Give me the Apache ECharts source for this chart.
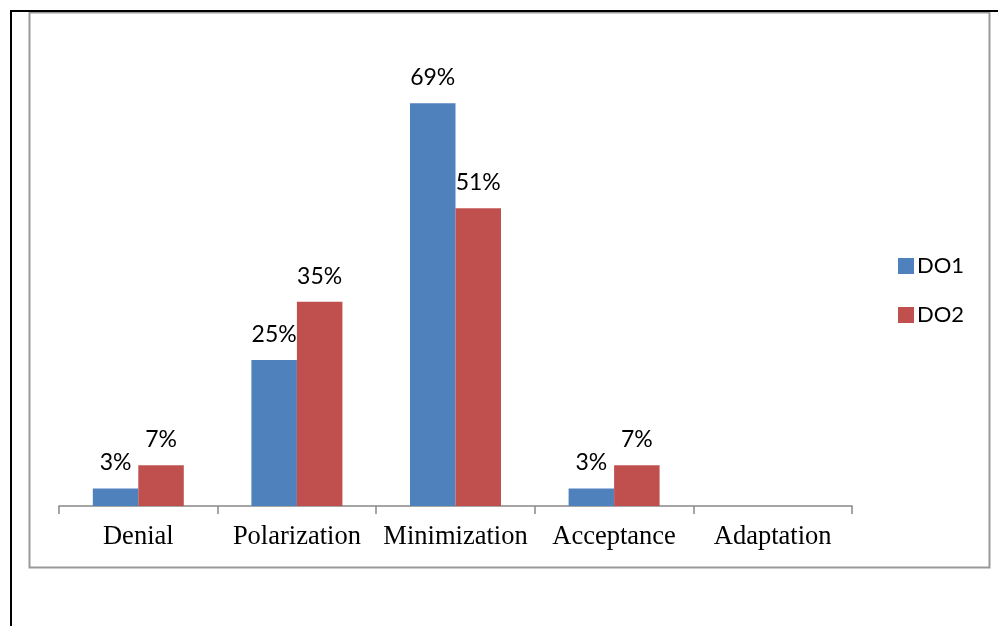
<!DOCTYPE html>
<html>
<head>
<meta charset="utf-8">
<script src="https://cdn.jsdelivr.net/npm/echarts@6/dist/echarts.min.js"></script>
<style>html,body{margin:0;padding:0;background:#fff;}#c{width:998px;height:626px;}</style>
</head>
<body>
<div id="c"></div>
<script>
const categories = ["Denial", "Polarization", "Minimization", "Acceptance", "Adaptation"];
const do1 = [3, 25, 69, 3, null];
const do2 = [7, 35, 51, 7, null];
const seriesNames = ["DO1", "DO2"];

const chart = echarts.init(document.getElementById('c'), null, {renderer: 'canvas'});
const labelStyle = {
  show: true, position: 'top', distance: 14, color: '#000',
  fontFamily: 'Lato, "Open Sans", sans-serif', fontSize: 23,
  formatter: p => p.value == null ? '' : p.value + '%'
};
chart.setOption({
  animation: false,
  backgroundColor: '#fff',
  graphic: [
    {type: 'rect', shape: {x: 29.5, y: 12.5, width: 960, height: 555}, style: {fill: 'none', stroke: '#999', lineWidth: 2}, z: 0},
    {type: 'line', shape: {x1: 10, y1: 11, x2: 998, y2: 11}, style: {stroke: '#000', lineWidth: 2}},
    {type: 'line', shape: {x1: 11, y1: 10, x2: 11, y2: 626}, style: {stroke: '#000', lineWidth: 2}}
  ],
  legend: {
    orient: 'vertical', left: 893, top: 250, itemWidth: 16, itemHeight: 16, itemGap: 27,
    icon: 'rect',
    textStyle: {fontFamily: 'Lato, "Open Sans", sans-serif', fontSize: 22, color: '#000', padding: [0, 0, 0, -2]},
    data: seriesNames
  },
  grid: {left: 59, right: 146, top: 39, bottom: 120},
  xAxis: {
    type: 'category', data: categories,
    axisLine: {lineStyle: {color: '#888', width: 1.5}},
    axisTick: {show: true, length: 8, lineStyle: {color: '#888', width: 1.5}},
    axisLabel: {interval: 0, color: '#000', fontFamily: '"Liberation Serif", "Times New Roman", serif', fontSize: 26.5, margin: 18}
  },
  yAxis: {type: 'value', min: 0, max: 80, show: false, splitLine: {show: false}},
  series: [
    {name: seriesNames[0], type: 'bar', data: do1, barWidth: 45.5, barGap: '0%', itemStyle: {color: '#4F81BD'}, label: labelStyle},
    {name: seriesNames[1], type: 'bar', data: do2, barWidth: 45.5, barGap: '0%', itemStyle: {color: '#C0504D'}, label: labelStyle}
  ]
});
</script>
</body>
</html>
